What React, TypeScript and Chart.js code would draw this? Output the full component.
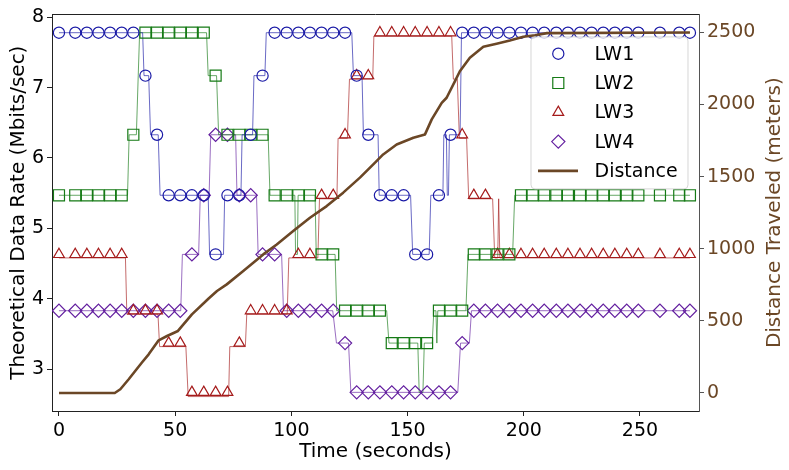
import React, { useEffect, useRef } from 'react';
import { Chart, registerables } from 'chart.js';
import { drawPoint } from 'chart.js/helpers';

Chart.register(...registerables);

// ---- data ----
// shared sampling instants of the marker series (seconds)
const sampleTimes = [
  0, 7, 12, 17, 22, 27, 32, 37.2, 42.2, 47.2, 52.2, 57.2, 62.3, 67.4, 72.5, 77.6, 82.5, 87.6,
  92.8, 98, 103, 108, 113, 118, 123.1, 128.1, 133.1, 138.1, 143.2, 148.3, 153.3, 158.4, 163.5,
  168.5, 173.5, 178.5, 183.5, 188.7, 193.8, 198.8, 203.8, 208.8, 214, 219, 224.2, 229.2, 234.2,
  239.2, 244.3, 249.3, 258.6, 266.9, 271.5,
];

// marker values (Mbits/sec) at each sample
const lw1Rates = [
  7.78, 7.78, 7.78, 7.78, 7.78, 7.78, 7.78, 7.17, 6.33, 5.47, 5.47, 5.47, 5.47, 4.63, 5.47, 5.47,
  6.33, 7.17, 7.78, 7.78, 7.78, 7.78, 7.78, 7.78, 7.78, 7.17, 6.33, 5.47, 5.47, 5.47, 4.63, 4.63,
  5.47, 6.33, 7.78, 7.78, 7.78, 7.78, 7.78, 7.78, 7.78, 7.78, 7.78, 7.78, 7.78, 7.78, 7.78, 7.78,
  7.78, 7.78, 7.78, 7.78, 7.78,
];
const lw2Rates = [
  5.47, 5.47, 5.47, 5.47, 5.47, 5.47, 6.33, 7.78, 7.78, 7.78, 7.78, 7.78, 7.78, 7.17, 6.33, 6.33,
  6.33, 6.33, 5.47, 5.47, 5.47, 5.47, 4.63, 4.63, 3.83, 3.83, 3.83, 3.83, 3.37, 3.37, 3.37, 3.37,
  3.83, 3.83, 3.83, 4.63, 4.63, 4.63, 4.63, 5.47, 5.47, 5.47, 5.47, 5.47, 5.47, 5.47, 5.47, 5.47,
  5.47, 5.47, 5.47, 5.47, 5.47,
];
const lw3Rates = [
  4.63, 4.63, 4.63, 4.63, 4.63, 4.63, 3.83, 3.83, 3.83, 3.37, 3.37, 2.67, 2.67, 2.67, 2.67, 3.37,
  3.83, 3.83, 3.83, 3.83, 4.63, 4.63, 5.47, 5.47, 6.33, 7.17, 7.17, 7.78, 7.78, 7.78, 7.78, 7.78,
  7.78, 7.78, 6.33, 5.47, 5.47, 4.63, 4.63, 4.63, 4.63, 4.63, 4.63, 4.63, 4.63, 4.63, 4.63, 4.63,
  4.63, 4.63, 4.63, 4.63, 4.63,
];
const lw4Rates = [
  3.83, 3.83, 3.83, 3.83, 3.83, 3.83, 3.83, 3.83, 3.83, 3.83, 3.83, 4.63, 5.47, 6.33, 6.33, 5.47,
  5.47, 4.63, 4.63, 3.83, 3.83, 3.83, 3.83, 3.83, 3.37, 2.67, 2.67, 2.67, 2.67, 2.67, 2.67, 2.67,
  2.67, 2.67, 3.37, 3.83, 3.83, 3.83, 3.83, 3.83, 3.83, 3.83, 3.83, 3.83, 3.83, 3.83, 3.83, 3.83,
  3.83, 3.83, 3.83, 3.83, 3.83,
];

// thin raw traces: [time, rate] vertices
const lw1Trace: [number, number][] = [
  [0, 7.78], [36, 7.78], [36.6, 7.17], [38.6, 7.17], [39.4, 6.33], [42.7, 6.33], [43.5, 5.47],
  [64.2, 5.47], [64.8, 4.63], [70.8, 4.63], [71.3, 5.47], [78.3, 5.47], [78.8, 6.33], [83.3, 6.33],
  [83.9, 7.17], [88.6, 7.17], [89.2, 7.78], [126, 7.78], [126.7, 7.17], [130.4, 7.17], [131, 6.33],
  [137.3, 6.33], [137.8, 5.47], [151.3, 5.47], [152.2, 4.63], [159.3, 4.63], [160, 5.47],
  [165.2, 5.47], [165.6, 6.33], [166.7, 6.33], [167.1, 5.47], [167.6, 5.47], [168, 6.33],
  [172.6, 6.33], [173.2, 7.78], [271.5, 7.78],
];
const lw2Trace: [number, number][] = [
  [0, 5.47], [29.5, 5.47], [30.2, 6.33], [33.3, 6.33], [34.1, 7.17], [34.7, 7.78], [63.5, 7.78],
  [64.2, 7.17], [67.8, 7.17], [68.7, 6.33], [90, 6.33], [90.8, 5.47], [101.5, 5.47], [101.8, 4.63],
  [102.6, 4.63], [102.9, 5.47], [110.2, 5.47], [110.7, 4.63], [118.8, 4.63], [119.5, 3.83],
  [141, 3.83], [142, 3.37], [154.4, 3.37], [155, 2.67], [156.6, 2.67], [157.2, 3.37], [160.6, 3.37],
  [161.3, 3.83], [162.2, 3.83], [162.6, 3.37], [163, 3.83], [175.1, 3.83], [176, 4.63],
  [195.2, 4.63], [196.1, 5.47], [271.5, 5.47],
];
const lw3Trace: [number, number][] = [
  [0, 4.58], [28.6, 4.58], [29.2, 3.78], [42.6, 3.78], [43.3, 3.32], [54.6, 3.32], [55.6, 2.61],
  [73, 2.61], [73.5, 3.32], [80.2, 3.32], [80.8, 3.78], [98.2, 3.78], [98.9, 4.58], [111.4, 4.58],
  [112.1, 5.42], [119.6, 5.42], [120.1, 6.28], [124.1, 6.28], [125, 7.12], [135, 7.12],
  [135.5, 7.73], [169, 7.73], [169.7, 7.12], [171.4, 7.12], [172.3, 6.28], [175.4, 6.28],
  [176.3, 5.42], [186.6, 5.42], [187.5, 4.58], [188.8, 4.58], [189.2, 5.42], [189.7, 4.58],
  [271.5, 4.58],
];
const lw4Trace: [number, number][] = [
  [0, 3.83], [52.4, 3.83], [53.1, 4.63], [60.1, 4.63], [60.8, 5.47], [64.6, 5.47], [65.3, 6.33],
  [76, 6.33], [76.6, 5.47], [85, 5.47], [85.7, 4.63], [95.8, 4.63], [96.6, 3.83], [117.8, 3.83],
  [119.4, 3.37], [124.6, 3.37], [125.6, 2.67], [171.6, 2.67], [172.8, 3.37], [176.6, 3.37],
  [177.5, 3.83], [271.5, 3.83],
];

// distance travelled (meters)
const distanceTimes = [
  0, 24, 26.4, 30, 32.8, 35.7, 38.6, 42.9, 46.5, 51.2, 57.2, 64.4, 68, 72.2, 79.3, 87.9, 93.7,
  100.8, 108, 115.2, 122.3, 129.5, 136, 139.5, 145.3, 152.5, 157.5, 160.4, 164.7, 166.8, 170.4,
  172.5, 176.8, 182.6, 188.3, 194, 199.8, 204.8, 210, 271.5,
];
const distanceMeters = [
  0, 0, 26, 95, 152, 211, 268, 365, 395, 430, 545, 655, 707, 753, 845, 961, 1030, 1123, 1215,
  1296, 1389, 1493, 1597, 1654, 1723, 1770, 1793, 1897, 2012, 2047, 2162, 2231, 2324, 2400, 2421,
  2444, 2470, 2481, 2495, 2500,
];

const timeTicks = [0, 50, 100, 150, 200, 250];
const rateTicks = [3, 4, 5, 6, 7, 8];
const distanceTicks = [0, 500, 1000, 1500, 2000, 2500];

const legendOrder = ['LW1', 'LW2', 'LW3', 'LW4', 'Distance'];
const rightTitle = 'Distance Traveled (meters)';

const FONT = "'DejaVu Sans', sans-serif";
const BROWN = '#6b4726';
const SPINE = '#222222';

const toPoints = (ts: number[], vs: number[]) => ts.map((t, i) => ({ x: t, y: vs[i] }));
const tracePoints = (tr: [number, number][]) => tr.map(([x, y]) => ({ x, y }));

const markerSet = (label: string, values: number[], color: string, style: string, radius: number) => ({
  label,
  data: toPoints(sampleTimes, values),
  showLine: false,
  pointStyle: style,
  pointRadius: radius,
  pointBorderWidth: 1.2,
  pointBorderColor: color,
  pointBackgroundColor: 'rgba(0,0,0,0)',
  borderColor: color,
  yAxisID: 'y',
  order: 1,
});

const traceSet = (trace: [number, number][], color: string) => ({
  label: '',
  data: tracePoints(trace),
  borderColor: color,
  borderWidth: 1,
  pointRadius: 0,
  tension: 0,
  yAxisID: 'y',
  order: 2,
});

// upper right legend box, like matplotlib's
const boxLegend = {
  id: 'boxLegend',
  afterDraw(chart: any) {
    const { ctx, chartArea } = chart;
    const w = 157;
    const h = 152;
    const x0 = chartArea.right - 11 - w;
    const y0 = chartArea.top + 22.5;
    ctx.save();
    ctx.beginPath();
    if (ctx.roundRect) ctx.roundRect(x0, y0, w, h, 4);
    else ctx.rect(x0, y0, w, h);
    ctx.fillStyle = 'rgba(255,255,255,0.8)';
    ctx.fill();
    ctx.strokeStyle = 'rgba(204,204,204,0.8)';
    ctx.lineWidth = 1;
    ctx.stroke();

    legendOrder.forEach((label, i) => {
      const ds = chart.data.datasets.find((d: any) => d.label === label);
      if (!ds) return;
      const cy = y0 + 16.8 + i * 29.3;
      if (ds.showLine === false) {
        ctx.strokeStyle = ds.pointBorderColor;
        ctx.fillStyle = 'rgba(0,0,0,0)';
        ctx.lineWidth = ds.pointBorderWidth;
        drawPoint(ctx, { pointStyle: ds.pointStyle, radius: ds.pointRadius, borderWidth: ds.pointBorderWidth, rotation: 0 } as any, x0 + 27.3, cy);
      } else {
        ctx.strokeStyle = ds.borderColor;
        ctx.lineWidth = ds.borderWidth;
        ctx.beginPath();
        ctx.moveTo(x0 + 7, cy);
        ctx.lineTo(x0 + 47, cy);
        ctx.stroke();
      }
      ctx.fillStyle = '#000';
      ctx.font = `19px ${FONT}`;
      ctx.textBaseline = 'middle';
      ctx.textAlign = 'left';
      ctx.fillText(label, x0 + 63.5, cy + 1);
    });
    ctx.restore();
  },
};

// top spine (the other three come from the axes)
const topSpine = {
  id: 'topSpine',
  afterDraw(chart: any) {
    const { ctx, chartArea } = chart;
    ctx.save();
    ctx.strokeStyle = SPINE;
    ctx.lineWidth = 1;
    ctx.beginPath();
    ctx.moveTo(chartArea.left, Math.round(chartArea.top) + 0.5);
    ctx.lineTo(chartArea.right, Math.round(chartArea.top) + 0.5);
    ctx.stroke();
    ctx.restore();
  },
};

// right axis title reads bottom-to-top (Chart.js would turn it the other way)
const rightAxisTitle = {
  id: 'rightAxisTitle',
  afterDraw(chart: any) {
    const { ctx, chartArea } = chart;
    ctx.save();
    ctx.translate(chartArea.right + 81, (chartArea.top + chartArea.bottom) / 2);
    ctx.rotate(-Math.PI / 2);
    ctx.fillStyle = BROWN;
    ctx.font = `20px ${FONT}`;
    ctx.textAlign = 'center';
    ctx.textBaseline = 'alphabetic';
    ctx.fillText(rightTitle, 0, 0);
    ctx.restore();
  },
};

const tickFont = { size: 19, family: FONT };
const titleFont = { size: 20, family: FONT, lineHeight: 1.2 };

const App: React.FC = () => {
  const canvasRef = useRef<HTMLCanvasElement>(null);
  const chartRef = useRef<Chart | null>(null);

  useEffect(() => {
    if (!canvasRef.current) return;
    chartRef.current?.destroy();

    chartRef.current = new Chart(canvasRef.current, {
      type: 'line',
      data: {
        datasets: [
          {
            label: 'Distance',
            data: toPoints(distanceTimes, distanceMeters),
            borderColor: BROWN,
            borderWidth: 2.6,
            pointRadius: 0,
            tension: 0,
            borderJoinStyle: 'round',
            yAxisID: 'y1',
            order: 0,
          },
          markerSet('LW1', lw1Rates, '#1a1aa6', 'circle', 5.6),
          markerSet('LW2', lw2Rates, '#157a15', 'rect', 7.8),
          markerSet('LW3', lw3Rates, '#a51b1b', 'triangle', 6.2),
          markerSet('LW4', lw4Rates, '#6420a0', 'rectRot', 6.6),
          traceSet(lw1Trace, 'rgba(26,26,166,0.65)'),
          traceSet(lw2Trace, 'rgba(21,122,21,0.65)'),
          traceSet(lw3Trace, 'rgba(165,27,27,0.65)'),
          traceSet(lw4Trace, 'rgba(100,32,160,0.65)'),
        ] as any,
      },
      options: {
        responsive: false,
        animation: false,
        events: [],
        layout: { padding: { top: 14, left: 0, right: 0, bottom: 0 } },
        plugins: {
          legend: { display: false },
          tooltip: { enabled: false },
        },
        scales: {
          x: {
            type: 'linear',
            min: -3,
            max: 275.4,
            afterBuildTicks: (axis: any) => {
              axis.ticks = timeTicks.map((value) => ({ value }));
            },
            afterFit: (axis: any) => {
              axis.height = 59;
            },
            ticks: { font: tickFont, color: '#000', padding: 4, maxRotation: 0, callback: (v: any) => String(v) },
            grid: { drawOnChartArea: false, drawTicks: true, tickLength: 5, tickColor: SPINE },
            border: { display: true, color: SPINE, width: 1 },
            title: { display: true, text: 'Time (seconds)', font: titleFont, color: '#000', padding: { top: 0, bottom: 6 } },
          },
          y: {
            type: 'linear',
            position: 'left',
            min: 2.405,
            max: 8.04,
            afterBuildTicks: (axis: any) => {
              axis.ticks = rateTicks.map((value) => ({ value }));
            },
            afterFit: (axis: any) => {
              axis.width = 52;
            },
            ticks: { font: tickFont, color: '#000', padding: 3, callback: (v: any) => String(v) },
            grid: { drawOnChartArea: false, drawTicks: true, tickLength: 5, tickColor: SPINE },
            border: { display: true, color: SPINE, width: 1 },
            title: { display: true, text: 'Theoretical Data Rate (Mbits/sec)', font: titleFont, color: '#000', padding: { top: 6.5, bottom: 0 } },
          },
          y1: {
            type: 'linear',
            position: 'right',
            min: -125,
            max: 2625,
            afterBuildTicks: (axis: any) => {
              axis.ticks = distanceTicks.map((value) => ({ value }));
            },
            afterFit: (axis: any) => {
              axis.width = 90;
            },
            ticks: { font: tickFont, color: BROWN, padding: 3, callback: (v: any) => String(v) },
            grid: { drawOnChartArea: false, drawTicks: true, tickLength: 5, tickColor: '#555' },
            border: { display: true, color: '#555', width: 1 },
            title: { display: false },
          },
        },
      } as any,
      plugins: [topSpine, boxLegend, rightAxisTitle],
    });

    return () => {
      chartRef.current?.destroy();
      chartRef.current = null;
    };
  }, []);

  return (
    <div style={{ position: 'fixed', left: 0, top: 0, width: 789, height: 470, background: '#fff' }}>
      <canvas ref={canvasRef} width={789} height={470} style={{ display: 'block' }} />
    </div>
  );
};

export default App;
